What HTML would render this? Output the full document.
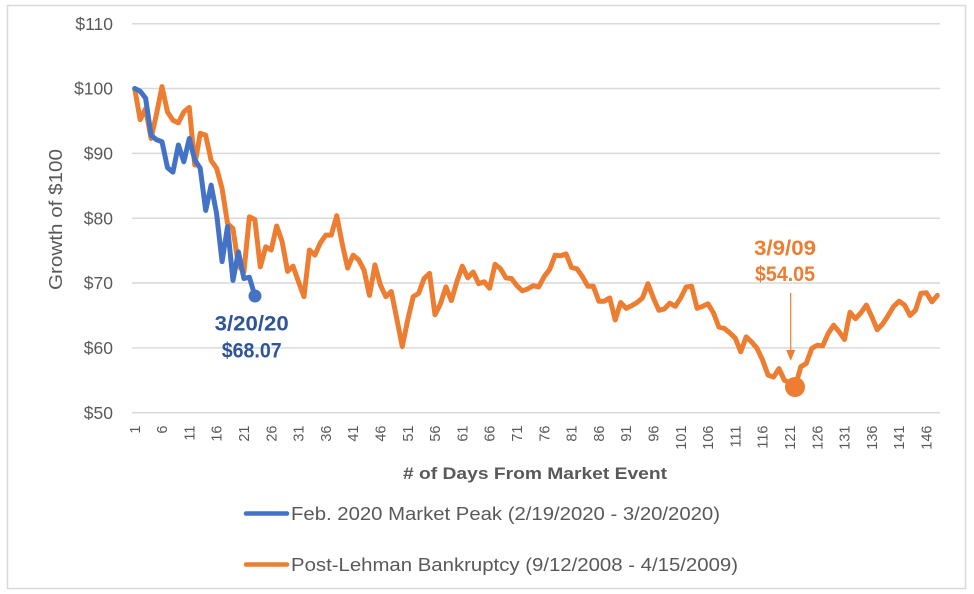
<!DOCTYPE html>
<html>
<head>
<meta charset="utf-8">
<style>
  html, body { margin: 0; padding: 0; background: #ffffff; }
  body { width: 974px; height: 594px; overflow: hidden; }
  svg { display: block; }
  text { font-family: "Liberation Sans", Arial, sans-serif; }
</style>
</head>
<body>
<svg width="974" height="594" viewBox="0 0 974 594" xmlns="http://www.w3.org/2000/svg">
  <rect x="0" y="0" width="974" height="594" fill="#ffffff"/>
  <rect x="7.5" y="5.5" width="958" height="583" fill="none" stroke="#d9d9d9" stroke-width="1.5"/>

  <!-- gridlines -->
  <g stroke="#d9d9d9" stroke-width="1.5">
    <line x1="132" y1="23.7" x2="940" y2="23.7"/>
    <line x1="132" y1="88.5" x2="940" y2="88.5"/>
    <line x1="132" y1="153.4" x2="940" y2="153.4"/>
    <line x1="132" y1="218.2" x2="940" y2="218.2"/>
    <line x1="132" y1="283.0" x2="940" y2="283.0"/>
    <line x1="132" y1="347.9" x2="940" y2="347.9"/>
    <line x1="132" y1="412.7" x2="940" y2="412.7"/>
  </g>

  <!-- y tick labels -->
  <g fill="#595959" font-size="17.5" text-anchor="end">
    <text x="113" y="29.8">$110</text>
    <text x="113" y="94.6">$100</text>
    <text x="113" y="159.5">$90</text>
    <text x="113" y="224.3">$80</text>
    <text x="113" y="289.1">$70</text>
    <text x="113" y="354.0">$60</text>
    <text x="113" y="418.8">$50</text>
  </g>

  <!-- y axis title -->
  <text transform="translate(62,219.5) rotate(-90)" text-anchor="middle" fill="#595959" font-size="18" textLength="141" lengthAdjust="spacingAndGlyphs">Growth of $100</text>

  <!-- x tick labels -->
  <g fill="#595959" font-size="14.5" text-anchor="end">
    <text transform="translate(134.7,425.5) rotate(-90)" dy="0.35em">1</text>
    <text transform="translate(162.0,425.5) rotate(-90)" dy="0.35em">6</text>
    <text transform="translate(189.3,425.5) rotate(-90)" dy="0.35em">11</text>
    <text transform="translate(216.6,425.5) rotate(-90)" dy="0.35em">16</text>
    <text transform="translate(243.9,425.5) rotate(-90)" dy="0.35em">21</text>
    <text transform="translate(271.2,425.5) rotate(-90)" dy="0.35em">26</text>
    <text transform="translate(298.5,425.5) rotate(-90)" dy="0.35em">31</text>
    <text transform="translate(325.8,425.5) rotate(-90)" dy="0.35em">36</text>
    <text transform="translate(353.1,425.5) rotate(-90)" dy="0.35em">41</text>
    <text transform="translate(380.4,425.5) rotate(-90)" dy="0.35em">46</text>
    <text transform="translate(407.7,425.5) rotate(-90)" dy="0.35em">51</text>
    <text transform="translate(435.0,425.5) rotate(-90)" dy="0.35em">56</text>
    <text transform="translate(462.3,425.5) rotate(-90)" dy="0.35em">61</text>
    <text transform="translate(489.6,425.5) rotate(-90)" dy="0.35em">66</text>
    <text transform="translate(516.9,425.5) rotate(-90)" dy="0.35em">71</text>
    <text transform="translate(544.2,425.5) rotate(-90)" dy="0.35em">76</text>
    <text transform="translate(571.5,425.5) rotate(-90)" dy="0.35em">81</text>
    <text transform="translate(598.8,425.5) rotate(-90)" dy="0.35em">86</text>
    <text transform="translate(626.1,425.5) rotate(-90)" dy="0.35em">91</text>
    <text transform="translate(653.4,425.5) rotate(-90)" dy="0.35em">96</text>
    <text transform="translate(680.7,425.5) rotate(-90)" dy="0.35em">101</text>
    <text transform="translate(708.0,425.5) rotate(-90)" dy="0.35em">106</text>
    <text transform="translate(735.3,425.5) rotate(-90)" dy="0.35em">111</text>
    <text transform="translate(762.6,425.5) rotate(-90)" dy="0.35em">116</text>
    <text transform="translate(789.9,425.5) rotate(-90)" dy="0.35em">121</text>
    <text transform="translate(817.2,425.5) rotate(-90)" dy="0.35em">126</text>
    <text transform="translate(844.5,425.5) rotate(-90)" dy="0.35em">131</text>
    <text transform="translate(871.8,425.5) rotate(-90)" dy="0.35em">136</text>
    <text transform="translate(899.1,425.5) rotate(-90)" dy="0.35em">141</text>
    <text transform="translate(926.4,425.5) rotate(-90)" dy="0.35em">146</text>
  </g>

  <!-- x axis title -->
  <text x="535" y="479" text-anchor="middle" fill="#595959" font-size="17" font-weight="bold" textLength="264" lengthAdjust="spacingAndGlyphs"># of Days From Market Event</text>

  <!-- series (data coordinates: x = day, y = value) -->
  <g transform="translate(129.24,736.85) scale(5.46,-6.483)" fill="none" stroke-linejoin="round" stroke-linecap="round">
    <polyline vector-effect="non-scaling-stroke" stroke="#ED7D31" stroke-width="5" points="
      1,100 2,95.2 3,96.9 4,92.3 5,96.1 6,100.3 7,96.4 8,95.1 9,94.7 10,96.4
      11,97.1 12,88.2 13,93.1 14,92.8 15,88.9 16,87.7 17,84.6 18,79.2 19,78.4 20,72.7
      21,71.7 22,80.2 23,79.8 24,72.5 25,75.6 26,75.1 27,78.8 28,76.4 29,71.8 30,72.6
      31,70.2 32,67.9 33,75.1 34,74.3 35,76.2 36,77.4 37,77.4 38,80.4 39,76.1 40,72.3
      41,74.3 42,73.6 43,72.0 44,68.1 45,72.8 46,69.7 47,67.9 48,68.7 49,64.5 50,60.2
      51,64.3 52,67.9 53,68.4 54,70.7 55,71.5 56,65.1 57,66.8 58,69.4 59,67.3 60,70.2
      61,72.6 62,70.8 63,71.7 64,69.9 65,70.2 66,69.2 67,72.9 68,72.2 69,70.8 70,70.7
      71,69.6 72,68.8 73,69.1 74,69.6 75,69.4 76,71.0 77,72.1 78,74.3 79,74.2 80,74.5
      81,72.4 82,72.2 83,71.0 84,69.5 85,69.5 86,67.2 87,67.2 88,67.7 89,64.3 90,67.0
      91,66.1 92,66.5 93,67.0 94,67.7 95,69.9 96,67.7 97,65.8 98,66.0 99,66.9 100,66.4
      101,67.7 102,69.4 103,69.5 104,66.1 105,66.4 106,66.8 107,65.4 108,63.2 109,63.0 110,62.3
      111,61.5 112,59.4 113,61.7 114,60.9 115,59.9 116,58.1 117,55.8 118,55.5 119,56.8 120,55.0
      121,54.6 122,54.05 123,57.1 124,57.6 125,59.9 126,60.4 127,60.3 128,62.2 129,63.5 130,62.5
      131,61.3 132,65.5 133,64.5 134,65.4 135,66.6 136,64.8 137,62.8 138,63.7 139,65.0 140,66.4
      141,67.2 142,66.6 143,65.0 144,65.8 145,68.4 146,68.5 147,67.1 148,68.1"/>
    <polyline vector-effect="non-scaling-stroke" stroke="#4472C4" stroke-width="5" points="
      1,100 2,99.6 3,98.5 4,92.8 5,92.1 6,91.8 7,87.8 8,87.1 9,91.3 10,88.7
      11,92.3 12,89.0 13,87.7 14,81.2 15,85.1 16,80.7 17,73.3 18,78.7 19,70.4 20,74.8
      21,70.7 22,70.9 23,68.07"/>
  </g>

  <!-- markers -->
  <circle cx="255" cy="296" r="6.5" fill="#4472C4"/>
  <circle cx="795" cy="387" r="10" fill="#ED7D31"/>

  <!-- annotation: 3/20/20 -->
  <g fill="#2F5597" font-size="21" font-weight="bold" text-anchor="middle">
    <text x="251.7" y="330.5" textLength="74" lengthAdjust="spacingAndGlyphs">3/20/20</text>
    <text x="251.7" y="357.5" textLength="60" lengthAdjust="spacingAndGlyphs">$68.07</text>
  </g>

  <!-- annotation: 3/9/09 -->
  <g fill="#ED7D31" font-size="21" font-weight="bold" text-anchor="middle">
    <text x="785" y="255" textLength="62" lengthAdjust="spacingAndGlyphs">3/9/09</text>
    <text x="785" y="281" textLength="60" lengthAdjust="spacingAndGlyphs">$54.05</text>
  </g>
  <line x1="790.7" y1="293" x2="790.7" y2="352" stroke="#ED7D31" stroke-width="1.2"/>
  <polygon points="786.2,350 795.2,350 790.7,361" fill="#ED7D31"/>

  <!-- legend -->
  <line x1="246" y1="513.5" x2="287" y2="513.5" stroke="#4472C4" stroke-width="4.5" stroke-linecap="round"/>
  <text x="291" y="520" fill="#595959" font-size="18" textLength="429" lengthAdjust="spacingAndGlyphs">Feb. 2020 Market Peak (2/19/2020 - 3/20/2020)</text>
  <line x1="246" y1="564.5" x2="287" y2="564.5" stroke="#ED7D31" stroke-width="4.5" stroke-linecap="round"/>
  <text x="291" y="571" fill="#595959" font-size="18" textLength="447" lengthAdjust="spacingAndGlyphs">Post-Lehman Bankruptcy (9/12/2008 - 4/15/2009)</text>
</svg>
</body>
</html>
